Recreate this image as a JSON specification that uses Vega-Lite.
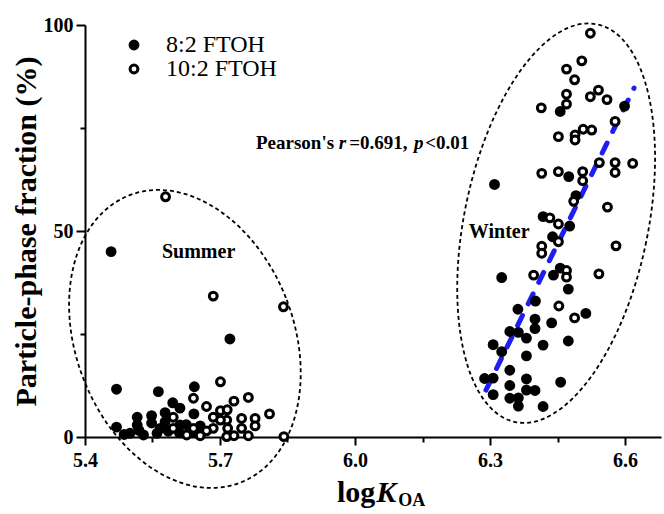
{
  "$schema": "https://vega.github.io/schema/vega-lite/v6.json",
  "width": 576,
  "height": 412,
  "autosize": {"type": "none"},
  "padding": {"left": 85, "top": 25, "right": 3, "bottom": 77},
  "background": "white",
  "config": {
    "view": {"stroke": null},
    "font": "Liberation Serif",
    "axis": {"grid": false, "domainColor": "black", "tickColor": "black", "labelColor": "black", "titleColor": "black", "labelFont": "Liberation Serif", "titleFont": "Liberation Serif", "labelFlush": false, "labelOverlap": false}
  },
  "datasets": {
    "points": [
      {"logKOA": 5.458, "fraction": 45.0, "compound": "8:2 FTOH"},
      {"logKOA": 5.722, "fraction": 23.8, "compound": "8:2 FTOH"},
      {"logKOA": 5.470, "fraction": 11.6, "compound": "8:2 FTOH"},
      {"logKOA": 5.563, "fraction": 11.0, "compound": "8:2 FTOH"},
      {"logKOA": 5.643, "fraction": 12.2, "compound": "8:2 FTOH"},
      {"logKOA": 5.595, "fraction": 8.3, "compound": "8:2 FTOH"},
      {"logKOA": 5.611, "fraction": 7.0, "compound": "8:2 FTOH"},
      {"logKOA": 5.642, "fraction": 5.6, "compound": "8:2 FTOH"},
      {"logKOA": 5.578, "fraction": 5.9, "compound": "8:2 FTOH"},
      {"logKOA": 5.548, "fraction": 5.2, "compound": "8:2 FTOH"},
      {"logKOA": 5.516, "fraction": 4.8, "compound": "8:2 FTOH"},
      {"logKOA": 5.516, "fraction": 2.9, "compound": "8:2 FTOH"},
      {"logKOA": 5.548, "fraction": 3.4, "compound": "8:2 FTOH"},
      {"logKOA": 5.578, "fraction": 3.7, "compound": "8:2 FTOH"},
      {"logKOA": 5.470, "fraction": 2.4, "compound": "8:2 FTOH"},
      {"logKOA": 5.500, "fraction": 0.9, "compound": "8:2 FTOH"},
      {"logKOA": 5.567, "fraction": 2.1, "compound": "8:2 FTOH"},
      {"logKOA": 5.611, "fraction": 2.9, "compound": "8:2 FTOH"},
      {"logKOA": 5.656, "fraction": 2.7, "compound": "8:2 FTOH"},
      {"logKOA": 5.560, "fraction": 0.9, "compound": "8:2 FTOH"},
      {"logKOA": 5.585, "fraction": 1.4, "compound": "8:2 FTOH"},
      {"logKOA": 5.640, "fraction": 1.2, "compound": "8:2 FTOH"},
      {"logKOA": 5.610, "fraction": 1.0, "compound": "8:2 FTOH"},
      {"logKOA": 5.520, "fraction": 1.6, "compound": "8:2 FTOH"},
      {"logKOA": 5.487, "fraction": 0.6, "compound": "8:2 FTOH"},
      {"logKOA": 5.625, "fraction": 3.0, "compound": "8:2 FTOH"},
      {"logKOA": 5.530, "fraction": 0.5, "compound": "8:2 FTOH"},
      {"logKOA": 6.456, "fraction": 79.0, "compound": "8:2 FTOH"},
      {"logKOA": 6.599, "fraction": 80.3, "compound": "8:2 FTOH"},
      {"logKOA": 6.475, "fraction": 63.2, "compound": "8:2 FTOH"},
      {"logKOA": 6.310, "fraction": 61.3, "compound": "8:2 FTOH"},
      {"logKOA": 6.491, "fraction": 58.6, "compound": "8:2 FTOH"},
      {"logKOA": 6.418, "fraction": 53.5, "compound": "8:2 FTOH"},
      {"logKOA": 6.477, "fraction": 51.2, "compound": "8:2 FTOH"},
      {"logKOA": 6.439, "fraction": 48.6, "compound": "8:2 FTOH"},
      {"logKOA": 6.441, "fraction": 39.3, "compound": "8:2 FTOH"},
      {"logKOA": 6.456, "fraction": 41.0, "compound": "8:2 FTOH"},
      {"logKOA": 6.326, "fraction": 38.7, "compound": "8:2 FTOH"},
      {"logKOA": 6.474, "fraction": 35.9, "compound": "8:2 FTOH"},
      {"logKOA": 6.401, "fraction": 33.0, "compound": "8:2 FTOH"},
      {"logKOA": 6.362, "fraction": 31.0, "compound": "8:2 FTOH"},
      {"logKOA": 6.513, "fraction": 30.0, "compound": "8:2 FTOH"},
      {"logKOA": 6.400, "fraction": 28.6, "compound": "8:2 FTOH"},
      {"logKOA": 6.400, "fraction": 26.3, "compound": "8:2 FTOH"},
      {"logKOA": 6.437, "fraction": 27.7, "compound": "8:2 FTOH"},
      {"logKOA": 6.344, "fraction": 25.6, "compound": "8:2 FTOH"},
      {"logKOA": 6.363, "fraction": 25.4, "compound": "8:2 FTOH"},
      {"logKOA": 6.381, "fraction": 24.0, "compound": "8:2 FTOH"},
      {"logKOA": 6.474, "fraction": 23.3, "compound": "8:2 FTOH"},
      {"logKOA": 6.307, "fraction": 22.4, "compound": "8:2 FTOH"},
      {"logKOA": 6.418, "fraction": 22.3, "compound": "8:2 FTOH"},
      {"logKOA": 6.326, "fraction": 20.7, "compound": "8:2 FTOH"},
      {"logKOA": 6.381, "fraction": 19.7, "compound": "8:2 FTOH"},
      {"logKOA": 6.344, "fraction": 16.2, "compound": "8:2 FTOH"},
      {"logKOA": 6.288, "fraction": 14.2, "compound": "8:2 FTOH"},
      {"logKOA": 6.307, "fraction": 14.3, "compound": "8:2 FTOH"},
      {"logKOA": 6.381, "fraction": 14.1, "compound": "8:2 FTOH"},
      {"logKOA": 6.344, "fraction": 12.5, "compound": "8:2 FTOH"},
      {"logKOA": 6.457, "fraction": 13.3, "compound": "8:2 FTOH"},
      {"logKOA": 6.307, "fraction": 10.3, "compound": "8:2 FTOH"},
      {"logKOA": 6.381, "fraction": 11.4, "compound": "8:2 FTOH"},
      {"logKOA": 6.400, "fraction": 11.3, "compound": "8:2 FTOH"},
      {"logKOA": 6.344, "fraction": 9.4, "compound": "8:2 FTOH"},
      {"logKOA": 6.363, "fraction": 9.5, "compound": "8:2 FTOH"},
      {"logKOA": 6.363, "fraction": 7.5, "compound": "8:2 FTOH"},
      {"logKOA": 6.418, "fraction": 7.4, "compound": "8:2 FTOH"},
      {"logKOA": 5.579, "fraction": 58.3, "compound": "10:2 FTOH"},
      {"logKOA": 5.685, "fraction": 34.2, "compound": "10:2 FTOH"},
      {"logKOA": 5.841, "fraction": 31.6, "compound": "10:2 FTOH"},
      {"logKOA": 5.701, "fraction": 13.4, "compound": "10:2 FTOH"},
      {"logKOA": 5.641, "fraction": 9.4, "compound": "10:2 FTOH"},
      {"logKOA": 5.670, "fraction": 7.4, "compound": "10:2 FTOH"},
      {"logKOA": 5.731, "fraction": 8.7, "compound": "10:2 FTOH"},
      {"logKOA": 5.763, "fraction": 9.6, "compound": "10:2 FTOH"},
      {"logKOA": 5.810, "fraction": 5.6, "compound": "10:2 FTOH"},
      {"logKOA": 5.701, "fraction": 6.4, "compound": "10:2 FTOH"},
      {"logKOA": 5.716, "fraction": 6.6, "compound": "10:2 FTOH"},
      {"logKOA": 5.748, "fraction": 4.5, "compound": "10:2 FTOH"},
      {"logKOA": 5.778, "fraction": 4.5, "compound": "10:2 FTOH"},
      {"logKOA": 5.778, "fraction": 2.7, "compound": "10:2 FTOH"},
      {"logKOA": 5.748, "fraction": 2.1, "compound": "10:2 FTOH"},
      {"logKOA": 5.715, "fraction": 4.1, "compound": "10:2 FTOH"},
      {"logKOA": 5.701, "fraction": 4.1, "compound": "10:2 FTOH"},
      {"logKOA": 5.685, "fraction": 4.8, "compound": "10:2 FTOH"},
      {"logKOA": 5.717, "fraction": 2.1, "compound": "10:2 FTOH"},
      {"logKOA": 5.685, "fraction": 2.1, "compound": "10:2 FTOH"},
      {"logKOA": 5.670, "fraction": 1.5, "compound": "10:2 FTOH"},
      {"logKOA": 5.641, "fraction": 2.1, "compound": "10:2 FTOH"},
      {"logKOA": 5.596, "fraction": 2.1, "compound": "10:2 FTOH"},
      {"logKOA": 5.596, "fraction": 4.8, "compound": "10:2 FTOH"},
      {"logKOA": 5.626, "fraction": 0.5, "compound": "10:2 FTOH"},
      {"logKOA": 5.656, "fraction": 0.3, "compound": "10:2 FTOH"},
      {"logKOA": 5.715, "fraction": 0.1, "compound": "10:2 FTOH"},
      {"logKOA": 5.731, "fraction": 0.3, "compound": "10:2 FTOH"},
      {"logKOA": 5.763, "fraction": 0.3, "compound": "10:2 FTOH"},
      {"logKOA": 5.842, "fraction": 0.1, "compound": "10:2 FTOH"},
      {"logKOA": 6.523, "fraction": 98.0, "compound": "10:2 FTOH"},
      {"logKOA": 6.504, "fraction": 91.3, "compound": "10:2 FTOH"},
      {"logKOA": 6.470, "fraction": 89.3, "compound": "10:2 FTOH"},
      {"logKOA": 6.488, "fraction": 86.7, "compound": "10:2 FTOH"},
      {"logKOA": 6.470, "fraction": 83.2, "compound": "10:2 FTOH"},
      {"logKOA": 6.470, "fraction": 80.8, "compound": "10:2 FTOH"},
      {"logKOA": 6.414, "fraction": 79.9, "compound": "10:2 FTOH"},
      {"logKOA": 6.523, "fraction": 82.6, "compound": "10:2 FTOH"},
      {"logKOA": 6.541, "fraction": 84.2, "compound": "10:2 FTOH"},
      {"logKOA": 6.560, "fraction": 81.9, "compound": "10:2 FTOH"},
      {"logKOA": 6.578, "fraction": 76.6, "compound": "10:2 FTOH"},
      {"logKOA": 6.452, "fraction": 72.9, "compound": "10:2 FTOH"},
      {"logKOA": 6.489, "fraction": 73.3, "compound": "10:2 FTOH"},
      {"logKOA": 6.489, "fraction": 72.1, "compound": "10:2 FTOH"},
      {"logKOA": 6.507, "fraction": 74.7, "compound": "10:2 FTOH"},
      {"logKOA": 6.526, "fraction": 74.5, "compound": "10:2 FTOH"},
      {"logKOA": 6.415, "fraction": 64.0, "compound": "10:2 FTOH"},
      {"logKOA": 6.452, "fraction": 64.4, "compound": "10:2 FTOH"},
      {"logKOA": 6.506, "fraction": 64.4, "compound": "10:2 FTOH"},
      {"logKOA": 6.506, "fraction": 62.2, "compound": "10:2 FTOH"},
      {"logKOA": 6.543, "fraction": 66.6, "compound": "10:2 FTOH"},
      {"logKOA": 6.578, "fraction": 66.6, "compound": "10:2 FTOH"},
      {"logKOA": 6.578, "fraction": 64.2, "compound": "10:2 FTOH"},
      {"logKOA": 6.617, "fraction": 66.4, "compound": "10:2 FTOH"},
      {"logKOA": 6.486, "fraction": 57.2, "compound": "10:2 FTOH"},
      {"logKOA": 6.561, "fraction": 55.8, "compound": "10:2 FTOH"},
      {"logKOA": 6.433, "fraction": 53.2, "compound": "10:2 FTOH"},
      {"logKOA": 6.452, "fraction": 51.7, "compound": "10:2 FTOH"},
      {"logKOA": 6.452, "fraction": 47.4, "compound": "10:2 FTOH"},
      {"logKOA": 6.415, "fraction": 46.3, "compound": "10:2 FTOH"},
      {"logKOA": 6.415, "fraction": 44.6, "compound": "10:2 FTOH"},
      {"logKOA": 6.580, "fraction": 46.4, "compound": "10:2 FTOH"},
      {"logKOA": 6.397, "fraction": 39.3, "compound": "10:2 FTOH"},
      {"logKOA": 6.470, "fraction": 40.4, "compound": "10:2 FTOH"},
      {"logKOA": 6.470, "fraction": 38.8, "compound": "10:2 FTOH"},
      {"logKOA": 6.542, "fraction": 39.6, "compound": "10:2 FTOH"},
      {"logKOA": 6.453, "fraction": 31.8, "compound": "10:2 FTOH"},
      {"logKOA": 6.488, "fraction": 28.9, "compound": "10:2 FTOH"}
    ],
    "fit": [
      {"logKOA": 6.291, "fraction": 11.4},
      {"logKOA": 6.620, "fraction": 84.7}
    ],
    "summerEllipse": [{"logKOA": 5.622, "fraction": 23.8}],
    "winterEllipse": [{"logKOA": 6.447, "fraction": 51.9}],
    "seasonLabels": [
      {"logKOA": 5.571, "fraction": 43.4, "label": "Summer"},
      {"logKOA": 6.253, "fraction": 48.3, "label": "Winter"}
    ],
    "boldLabels": [
      {"logKOA": 5.780, "fraction": 69.9, "label": "Pearson's"},
      {"logKOA": 5.987, "fraction": 69.9, "label": "=0.691,"},
      {"logKOA": 6.156, "fraction": 69.9, "label": "<0.01"}
    ],
    "italicLabels": [
      {"logKOA": 5.964, "fraction": 69.9, "label": "r"},
      {"logKOA": 6.131, "fraction": 69.9, "label": "p"}
    ],
    "titleLog": [{"logKOA": 5.960, "fraction": -15.8, "label": "log"}],
    "titleK": [{"logKOA": 6.047, "fraction": -15.8, "label": "K"}],
    "titleSub": [{"logKOA": 6.096, "fraction": -16.7, "label": "OA"}]
  },
  "layer": [
    {
      "data": {"name": "summerEllipse"},
      "mark": {"type": "point", "shape": "M0.708,0C0.708,0.5523,0.391,1,0,1C-0.391,1,-0.708,0.5523,-0.708,0C-0.708,-0.5523,-0.391,-1,0,-1C0.391,-1,0.708,-0.5523,0.708,0Z", "size": 94864, "angle": -21, "filled": false, "stroke": "black", "strokeWidth": 1.8, "strokeDash": [4, 3], "opacity": 1},
      "encoding": {
        "x": {"field": "logKOA", "type": "quantitative", "scale": {"domain": [5.4, 6.68], "zero": false, "nice": false}, "axis": null},
        "y": {"field": "fraction", "type": "quantitative", "scale": {"domain": [0, 100], "nice": false}, "axis": null}
      }
    },
    {
      "data": {"name": "winterEllipse"},
      "mark": {"type": "point", "shape": "M0.453,0C0.453,0.5523,0.25,1,0,1C-0.25,1,-0.453,0.5523,-0.453,0C-0.453,-0.5523,-0.25,-1,0,-1C0.25,-1,0.453,-0.5523,0.453,0Z", "size": 164836, "angle": 11.6, "filled": false, "stroke": "black", "strokeWidth": 1.8, "strokeDash": [4, 3], "opacity": 1},
      "encoding": {
        "x": {"field": "logKOA", "type": "quantitative", "scale": {"domain": [5.4, 6.68], "zero": false, "nice": false}, "axis": null},
        "y": {"field": "fraction", "type": "quantitative", "scale": {"domain": [0, 100], "nice": false}, "axis": null}
      }
    },
    {
      "data": {"name": "fit"},
      "mark": {"type": "line", "color": "#1e1ef0", "strokeWidth": 5, "strokeDash": [11, 13], "strokeCap": "round"},
      "encoding": {
        "x": {"field": "logKOA", "type": "quantitative", "scale": {"domain": [5.4, 6.68], "zero": false, "nice": false},
              "axis": {"orient": "bottom", "values": [5.55, 5.85, 6.15, 6.45], "labels": false, "domain": false, "tickSize": 5, "tickWidth": 2, "title": null}},
        "y": {"field": "fraction", "type": "quantitative", "scale": {"domain": [0, 100], "nice": false},
              "axis": {"orient": "left", "values": [25, 75], "labels": false, "domain": false, "tickSize": 5, "tickWidth": 2, "title": null}}
      }
    },
    {
      "data": {"name": "points"},
      "mark": {"type": "point", "filled": true, "shape": "circle", "size": 62, "stroke": "black", "strokeWidth": 3, "opacity": 1},
      "encoding": {
        "x": {"field": "logKOA", "type": "quantitative", "scale": {"domain": [5.4, 6.68], "zero": false, "nice": false},
              "axis": {"orient": "bottom", "values": [5.4, 5.7, 6.0, 6.3, 6.6], "format": ".1f", "tickSize": 8, "tickWidth": 2, "domainWidth": 2, "labelFontSize": 20, "labelFontWeight": "bold", "labelPadding": 5, "title": null}},
        "y": {"field": "fraction", "type": "quantitative", "scale": {"domain": [0, 100], "nice": false},
              "axis": {"orient": "left", "values": [0, 50, 100], "tickSize": 9, "tickWidth": 2, "domainWidth": 2, "labelFontSize": 20, "labelFontWeight": "bold", "labelPadding": 3, "title": "Particle-phase fraction (%)", "titleFontSize": 30, "titleFontWeight": "bold", "titlePadding": 2}},
        "fill": {"field": "compound", "type": "nominal", "scale": {"domain": ["8:2 FTOH", "10:2 FTOH"], "range": ["black", "white"]},
                 "legend": {"title": null, "orient": "none", "legendX": 37, "legendY": 8, "labelFontSize": 24, "labelFont": "Liberation Serif", "labelColor": "black", "symbolType": "circle", "symbolSize": 62, "symbolStrokeColor": "black", "symbolStrokeWidth": 3, "symbolOpacity": 1, "labelOffset": 20, "rowPadding": 0, "padding": 0}}
      }
    },
    {
      "data": {"name": "seasonLabels"},
      "mark": {"type": "text", "font": "Liberation Serif", "fontWeight": "bold", "fontSize": 20, "align": "left", "baseline": "alphabetic", "color": "black"},
      "encoding": {
        "x": {"field": "logKOA", "type": "quantitative", "scale": {"domain": [5.4, 6.68], "zero": false, "nice": false}, "axis": null},
        "y": {"field": "fraction", "type": "quantitative", "scale": {"domain": [0, 100], "nice": false}, "axis": null},
        "text": {"field": "label"}
      }
    },
    {
      "data": {"name": "boldLabels"},
      "mark": {"type": "text", "font": "Liberation Serif", "fontWeight": "bold", "fontSize": 19, "align": "left", "baseline": "alphabetic", "color": "black"},
      "encoding": {
        "x": {"field": "logKOA", "type": "quantitative", "scale": {"domain": [5.4, 6.68], "zero": false, "nice": false}, "axis": null},
        "y": {"field": "fraction", "type": "quantitative", "scale": {"domain": [0, 100], "nice": false}, "axis": null},
        "text": {"field": "label"}
      }
    },
    {
      "data": {"name": "italicLabels"},
      "mark": {"type": "text", "font": "Liberation Serif", "fontWeight": "bold", "fontStyle": "italic", "fontSize": 19, "align": "left", "baseline": "alphabetic", "color": "black"},
      "encoding": {
        "x": {"field": "logKOA", "type": "quantitative", "scale": {"domain": [5.4, 6.68], "zero": false, "nice": false}, "axis": null},
        "y": {"field": "fraction", "type": "quantitative", "scale": {"domain": [0, 100], "nice": false}, "axis": null},
        "text": {"field": "label"}
      }
    },
    {
      "data": {"name": "titleLog"},
      "mark": {"type": "text", "font": "Liberation Serif", "fontWeight": "bold", "fontSize": 30, "align": "left", "baseline": "alphabetic", "color": "black"},
      "encoding": {
        "x": {"field": "logKOA", "type": "quantitative", "scale": {"domain": [5.4, 6.68], "zero": false, "nice": false}, "axis": null},
        "y": {"field": "fraction", "type": "quantitative", "scale": {"domain": [0, 100], "nice": false}, "axis": null},
        "text": {"field": "label"}
      }
    },
    {
      "data": {"name": "titleK"},
      "mark": {"type": "text", "font": "Liberation Serif", "fontWeight": "bold", "fontStyle": "italic", "fontSize": 30, "align": "left", "baseline": "alphabetic", "color": "black"},
      "encoding": {
        "x": {"field": "logKOA", "type": "quantitative", "scale": {"domain": [5.4, 6.68], "zero": false, "nice": false}, "axis": null},
        "y": {"field": "fraction", "type": "quantitative", "scale": {"domain": [0, 100], "nice": false}, "axis": null},
        "text": {"field": "label"}
      }
    },
    {
      "data": {"name": "titleSub"},
      "mark": {"type": "text", "font": "Liberation Serif", "fontWeight": "bold", "fontSize": 18, "align": "left", "baseline": "alphabetic", "color": "black"},
      "encoding": {
        "x": {"field": "logKOA", "type": "quantitative", "scale": {"domain": [5.4, 6.68], "zero": false, "nice": false}, "axis": null},
        "y": {"field": "fraction", "type": "quantitative", "scale": {"domain": [0, 100], "nice": false}, "axis": null},
        "text": {"field": "label"}
      }
    }
  ],
  "resolve": {"axis": {"x": "independent", "y": "independent"}}
}
